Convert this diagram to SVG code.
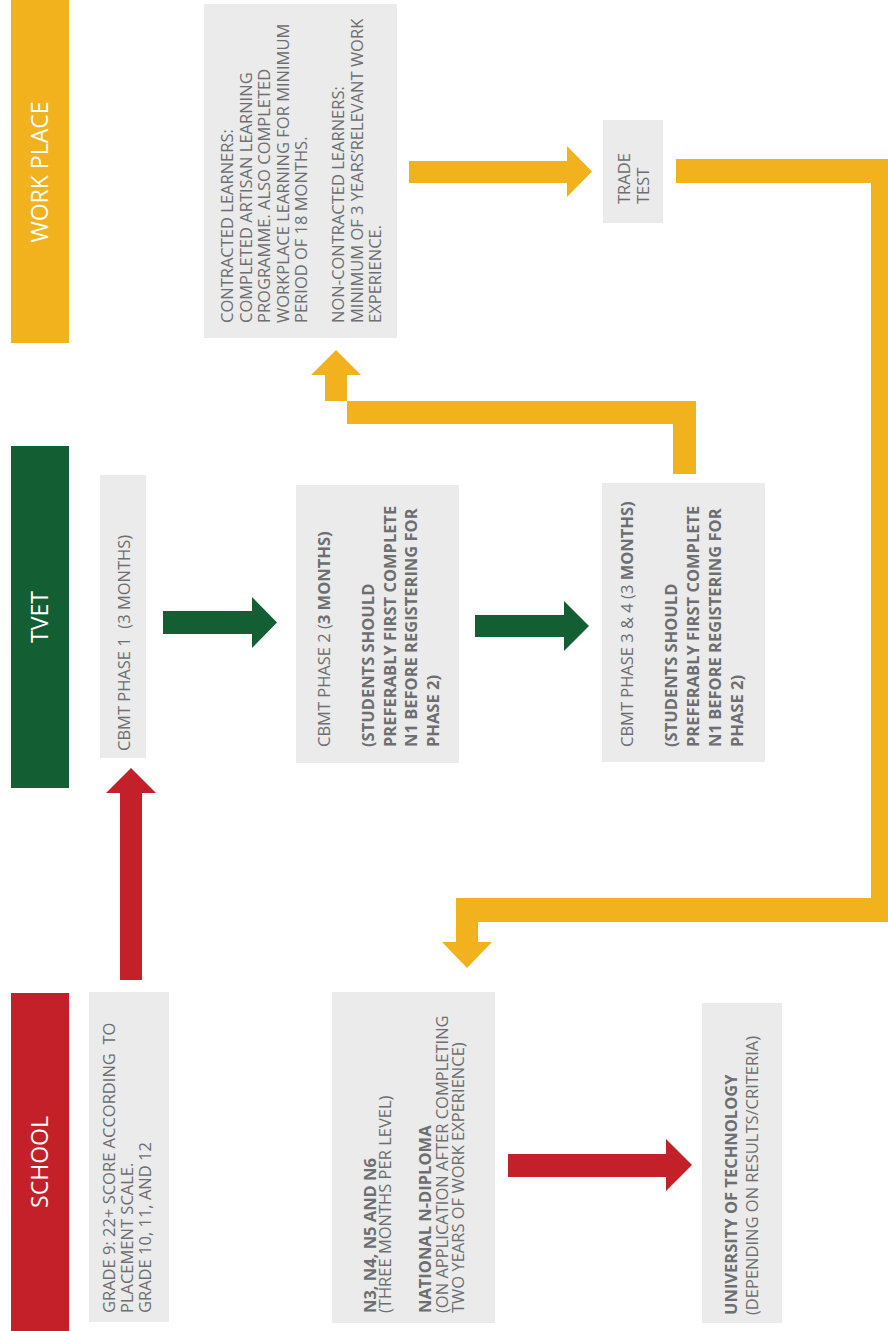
<svg xmlns="http://www.w3.org/2000/svg" width="888" height="1331" viewBox="0 0 888 1331">
<style>
.box{fill:#ebebeb}
.t{font-family:"Open Sans","Liberation Sans",sans-serif;font-size:16.5px;fill:#6d6e71}
.b{font-weight:bold}
.band{font-family:"Open Sans","Liberation Sans",sans-serif;font-size:23px;fill:#ffffff;text-anchor:middle}
.yel{fill:#f2b21e}
.grn{fill:#135f33}
.red{fill:#c4202a}
</style>
<rect width="888" height="1331" fill="#ffffff"/>
<g id="band-workplace">
<rect x="11" y="0" width="58" height="343" class="yel"/>
<g transform="translate(0,172) rotate(-90)"><text class="band" x="0" y="48">WORK PLACE</text></g>
</g>
<g id="band-tvet">
<rect x="11" y="446" width="58" height="342" class="grn"/>
<g transform="translate(0,617) rotate(-90)"><text class="band" x="0" y="48">TVET</text></g>
</g>
<g id="band-school">
<rect x="11" y="993" width="58" height="338" class="red"/>
<g transform="translate(0,1162) rotate(-90)"><text class="band" x="0" y="48">SCHOOL</text></g>
</g>
<g id="node-workplace">
<rect x="204" y="4" width="193" height="334" class="box"/>
<g transform="translate(0,323) rotate(-90)"><text class="t">
<tspan x="0" y="233">CONTRACTED LEARNERS:</tspan>
<tspan x="0" y="251.5">COMPLETED ARTISAN LEARNING</tspan>
<tspan x="0" y="270">PROGRAMME. ALSO COMPLETED</tspan>
<tspan x="0" y="288.5">WORKPLACE LEARNING FOR MINIMUM</tspan>
<tspan x="0" y="307">PERIOD OF 18 MONTHS.</tspan>
<tspan x="0" y="344">NON-CONTRACTED LEARNERS:</tspan>
<tspan x="0" y="362.5">MINIMUM OF 3 YEARS’RELEVANT WORK</tspan>
<tspan x="0" y="381">EXPERIENCE.</tspan>
</text></g>
</g>
<g id="node-tradetest">
<rect x="603" y="120" width="60" height="103" class="box"/>
<g transform="translate(0,204) rotate(-90)"><text class="t">
<tspan x="0" y="630">TRADE</tspan>
<tspan x="0" y="649">TEST</tspan>
</text></g>
</g>
<g id="node-phase1">
<rect x="100" y="475" width="46" height="283" class="box"/>
<g transform="translate(0,751) rotate(-90)"><text class="t" x="0" y="130" xml:space="preserve">CBMT PHASE 1  (3 MONTHS)</text></g>
</g>
<g id="node-phase2">
<rect x="296" y="485" width="163" height="278" class="box"/>
<g transform="translate(0,747) rotate(-90)"><text class="t">
<tspan x="0" y="330">CBMT PHASE 2 (<tspan class="b">3 MONTHS)</tspan></tspan>
<tspan x="0" y="374" class="b">(STUDENTS SHOULD</tspan>
<tspan x="0" y="395.5" class="b">PREFERABLY FIRST COMPLETE</tspan>
<tspan x="0" y="417" class="b">N1 BEFORE REGISTERING FOR</tspan>
<tspan x="0" y="439" class="b">PHASE 2)</tspan>
</text></g>
</g>
<g id="node-phase34">
<rect x="602" y="483" width="163" height="279" class="box"/>
<g transform="translate(0,747) rotate(-90)"><text class="t">
<tspan x="0" y="633">CBMT PHASE 3 &amp; 4 (3 <tspan class="b">MONTHS)</tspan></tspan>
<tspan x="0" y="677" class="b">(STUDENTS SHOULD</tspan>
<tspan x="0" y="698.5" class="b">PREFERABLY FIRST COMPLETE</tspan>
<tspan x="0" y="720.5" class="b">N1 BEFORE REGISTERING FOR</tspan>
<tspan x="0" y="742.5" class="b">PHASE 2)</tspan>
</text></g>
</g>
<g id="node-school">
<rect x="89" y="992" width="80" height="330" class="box"/>
<g transform="translate(0,1313) rotate(-90)"><text class="t" xml:space="preserve"><tspan x="0" y="115">GRADE 9: 22+ SCORE ACCORDING  TO</tspan><tspan x="0" y="133">PLACEMENT SCALE.</tspan><tspan x="0" y="151">GRADE 10, 11, AND 12</tspan></text></g>
</g>
<g id="node-ndiploma">
<rect x="332" y="992" width="163" height="331" class="box"/>
<g transform="translate(0,1313) rotate(-90)"><text class="t">
<tspan x="0" y="375.5" class="b">N3, N4, N5 AND N6</tspan>
<tspan x="0" y="391">(THREE MONTHS PER LEVEL)</tspan>
<tspan x="0" y="431" class="b">NATIONAL N-DIPLOMA</tspan>
<tspan x="0" y="447.5">(ON APPLICATION AFTER COMPLETING</tspan>
<tspan x="0" y="464">TWO YEARS OF WORK EXPERIENCE)</tspan>
</text></g>
</g>
<g id="node-university">
<rect x="702" y="1003" width="80" height="320" class="box"/>
<g transform="translate(0,1315) rotate(-90)"><text class="t">
<tspan x="0" y="737" class="b">UNIVERSITY OF TECHNOLOGY</tspan>
<tspan x="0" y="758">(DEPENDING ON RESULTS/CRITERIA)</tspan>
</text></g>
</g>
<g id="connectors">
<polygon class="red" points="120,980 120,793 106,793 131,768 156,793 142,793 142,980"/>
<polygon class="grn" points="163,611 252,611 252,597 277,622.5 252,648 252,634 163,634"/>
<polygon class="grn" points="475,615 564,615 564,601 589,626 564,651 564,637 475,637"/>
<polygon class="yel" points="409,161 567,161 567,146 592,171.5 567,197 567,183 409,183"/>
<polygon class="yel" points="673,474 673,424 347,424 347,375 361,375 336,350 311,375 325,375 325,401 696,401 696,474"/>
<polygon class="yel" points="676,159 888,159 888,922 478,922 478,942 492,942 467,968 442,942 456,942 456,898 871,898 871,183 676,183"/>
<polygon class="red" points="508,1154 666,1154 666,1139 692,1165 666,1191 666,1177 508,1177"/>
</g>
</svg>
